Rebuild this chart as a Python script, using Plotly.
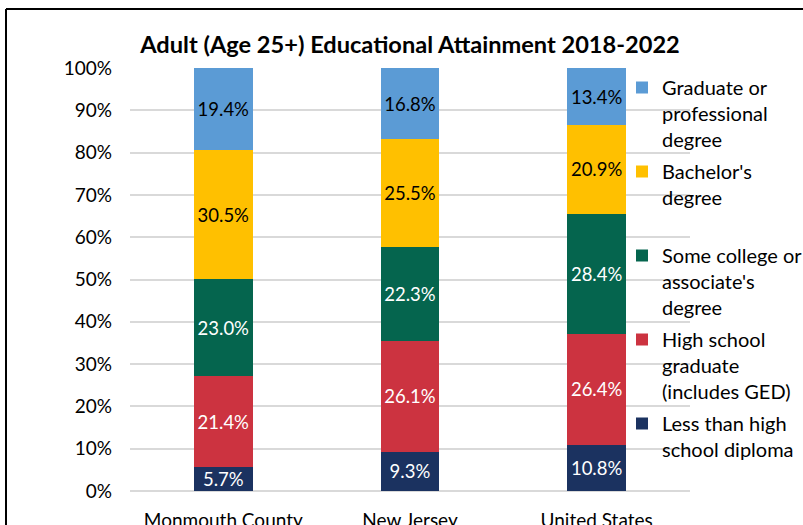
import plotly.graph_objects as go

categories = ["Monmouth County", "New Jersey", "United States"]
series_names = [
    "Less than high<br>school diploma",
    "High school<br>graduate<br>(includes GED)",
    "Some college or<br>associate's<br>degree",
    "Bachelor's<br>degree<br> ",
    "Graduate or<br>professional<br>degree",
]
less_than_hs = [5.7, 9.3, 10.8]
high_school = [21.4, 26.1, 26.4]
some_college = [23.0, 22.3, 28.4]
bachelors = [30.5, 25.5, 20.9]
graduate = [19.4, 16.8, 13.4]
y_ticks = [0, 10, 20, 30, 40, 50, 60, 70, 80, 90, 100]

values = [less_than_hs, high_school, some_college, bachelors, graduate]
colors = ["#1B3260", "#CC3340", "#05654E", "#FFC000", "#5B9BD5"]
text_colors = ["white", "white", "white", "black", "black"]

FONT = "Lato"
fig = go.Figure()
for i, (name, vals) in enumerate(zip(series_names, values)):
    fig.add_trace(go.Bar(
        x=categories, y=vals, name=name,
        marker=dict(color=colors[i], line=dict(width=0)),
        texttemplate="%{y:.1f}%", textposition="inside",
        insidetextanchor="middle", textangle=0,
        constraintext="none",
        textfont=dict(color=text_colors[i], size=18.5, family=FONT),
        legendgroup=f"g{i}",
        legendrank=len(values) - i,
    ))

W, H = 803, 525
L, R, T, B = 130, 113, 68, 34
pw, ph = W - L - R, H - T - B

def px_x(p):
    return (p - L) / pw

def px_y(p):
    return (H - B - p) / ph

fig.update_layout(
    width=W, height=H,
    margin=dict(l=L, r=R, t=T, b=B, pad=0, autoexpand=False),
    barmode="stack", bargap=0.685,
    plot_bgcolor="white", paper_bgcolor="white",
    font=dict(family=FONT, size=19, color="#000000"),
    title=dict(text="<b>Adult (Age 25+) Educational Attainment 2018-2022</b>",
               x=(L + 0.5 * pw) / W, xanchor="center",
               y=1 - 45 / H, yanchor="middle",
               font=dict(size=23.6, family=FONT, color="#000000")),
    xaxis=dict(showgrid=False, showline=False, ticks="", ticklabelstandoff=16,
               automargin=False, tickfont=dict(size=19, family=FONT)),
    yaxis=dict(range=[0, 100], tickvals=y_ticks,
               ticktext=[f"{v}%" for v in y_ticks],
               showgrid=True, gridcolor="#D9D9D9", gridwidth=1.5,
               zeroline=True, zerolinecolor="#D9D9D9", zerolinewidth=1.5,
               showline=False, ticks="", ticklabelstandoff=17, automargin=False,
               tickfont=dict(size=19, family=FONT)),
    legend=dict(traceorder="grouped", x=px_x(622), xanchor="left",
                y=px_y(68), yanchor="top", valign="top",
                font=dict(size=20, family=FONT), tracegroupgap=3,
                bgcolor="rgba(0,0,0,0)", itemwidth=30),
    showlegend=True,
    shapes=[
        dict(type="line", xref="paper", yref="paper",
             x0=px_x(6), x1=px_x(6), y0=px_y(9), y1=px_y(530),
             line=dict(color="black", width=2)),
        dict(type="line", xref="paper", yref="paper",
             x0=px_x(6), x1=px_x(810), y0=px_y(9), y1=px_y(9),
             line=dict(color="black", width=2)),
    ],
)

fig.write_html("out.html")
